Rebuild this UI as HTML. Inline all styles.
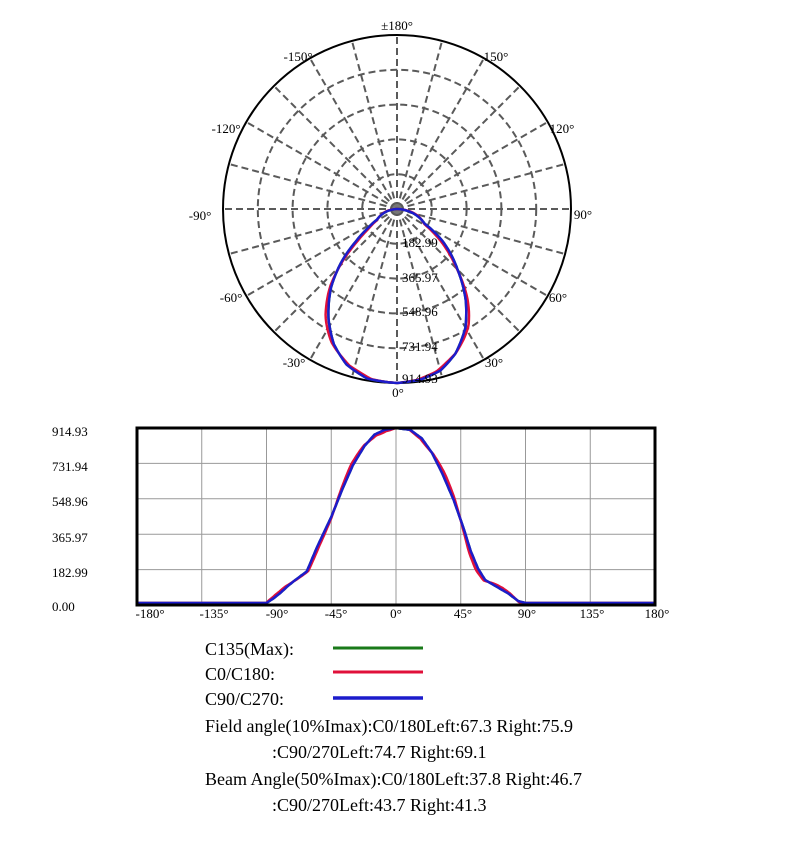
<!DOCTYPE html>
<html><head><meta charset="utf-8"><style>
body{margin:0;background:#fff;}
svg text{font-family:"Liberation Serif",serif;fill:#000;}
</style></head><body>
<svg id="s" width="799" height="841" xmlns="http://www.w3.org/2000/svg">
<g id="polar"></g>
<g font-size="13">
<text x="397" y="30" text-anchor="middle">±180°</text>
<text x="298" y="61" text-anchor="middle">-150°</text>
<text x="496" y="61" text-anchor="middle">150°</text>
<text x="226" y="133" text-anchor="middle">-120°</text>
<text x="562" y="133" text-anchor="middle">120°</text>
<text x="200" y="220" text-anchor="middle">-90°</text>
<text x="583" y="219" text-anchor="middle">90°</text>
<text x="231" y="302" text-anchor="middle">-60°</text>
<text x="558" y="302" text-anchor="middle">60°</text>
<text x="294" y="367" text-anchor="middle">-30°</text>
<text x="494" y="367" text-anchor="middle">30°</text>
<text x="398" y="397" text-anchor="middle">0°</text>
<text x="402" y="247">182.99</text>
<text x="402" y="282">365.97</text>
<text x="402" y="316">548.96</text>
<text x="402" y="351">731.94</text>
<text x="402" y="383">914.93</text>
</g>
<g id="cart"></g>
<g font-size="13">
<text x="52" y="436">914.93</text>
<text x="52" y="471">731.94</text>
<text x="52" y="506">548.96</text>
<text x="52" y="542">365.97</text>
<text x="52" y="577">182.99</text>
<text x="52" y="611">0.00</text>
<text x="150" y="618" text-anchor="middle">-180°</text>
<text x="214" y="618" text-anchor="middle">-135°</text>
<text x="277" y="618" text-anchor="middle">-90°</text>
<text x="336" y="618" text-anchor="middle">-45°</text>
<text x="396" y="618" text-anchor="middle">0°</text>
<text x="463" y="618" text-anchor="middle">45°</text>
<text x="527" y="618" text-anchor="middle">90°</text>
<text x="592" y="618" text-anchor="middle">135°</text>
<text x="657" y="618" text-anchor="middle">180°</text>
</g>
<g font-size="18">
<text x="205" y="655">C135(Max):</text>
<text x="205" y="680">C0/C180:</text>
<text x="205" y="705">C90/C270:</text>
<line x1="333" y1="648" x2="423" y2="648" stroke="#1a7a1a" stroke-width="3"/>
<line x1="333" y1="672" x2="423" y2="672" stroke="#e0103a" stroke-width="3"/>
<line x1="333" y1="698" x2="423" y2="698" stroke="#1c1ccc" stroke-width="3.5"/>
<text x="205" y="732">Field angle(10%Imax):C0/180Left:67.3 Right:75.9</text>
<text x="272" y="758">:C90/270Left:74.7 Right:69.1</text>
<text x="205" y="785">Beam Angle(50%Imax):C0/180Left:37.8 Right:46.7</text>
<text x="272" y="811">:C90/270Left:43.7 Right:41.3</text>
</g>
</svg>
<script>
var NS="http://www.w3.org/2000/svg";
function el(p,t,a){var e=document.createElementNS(NS,t);for(var k in a)e.setAttribute(k,a[k]);p.appendChild(e);return e;}
var P=document.getElementById("polar"),C=document.getElementById("cart");
var cx=397,cy=209,R=174;
for(var a=0;a<360;a+=15){var r=a*Math.PI/180;
 el(P,"line",{x1:cx,y1:cy,x2:cx+R*Math.sin(r),y2:cy+R*Math.cos(r),stroke:"#5a5a5a","stroke-width":2,"stroke-dasharray":"7,4"});}
for(var i=1;i<=4;i++)el(P,"circle",{cx:cx,cy:cy,r:R*i/5,fill:"none",stroke:"#5a5a5a","stroke-width":2,"stroke-dasharray":"7,4"});
el(P,"circle",{cx:cx,cy:cy,r:R,fill:"none",stroke:"#000","stroke-width":2});
el(P,"circle",{cx:cx,cy:cy,r:5,fill:"#777"});
var T=[[-90,0],[-85,25],[-80,55],[-75,90],[-70,120],[-62,165],[-55,290],[-45,450],[-37,600],[-30,720],[-22,820],[-15,880],[-8,905],[0,915],[10,905],[18,860],[25,785],[32,680],[40,540],[47,390],[52,270],[57,180],[62,120],[70,85],[78,50],[85,10],[90,0]];
function I(t){if(t<=-90||t>=90)return 0;for(var i=0;i<T.length-1;i++){if(t>=T[i][0]&&t<=T[i+1][0]){var f=(t-T[i][0])/(T[i+1][0]-T[i][0]);return T[i][1]+f*(T[i+1][1]-T[i][1]);}}return 0;}
var cols=[["#1a7a1a",0,0],["#e0103a",1.5,6],["#1c1ccc",0,0]];
var L=137,Rt=655,Tp=428,B=605;
for(var k=1;k<8;k++){var x=L+(Rt-L)*k/8;el(C,"line",{x1:x,y1:Tp,x2:x,y2:B,stroke:"#999","stroke-width":1});}
for(var k=1;k<5;k++){var y=Tp+(B-Tp)*k/5;el(C,"line",{x1:L,y1:y,x2:Rt,y2:y,stroke:"#999","stroke-width":1});}
cols.forEach(function(c,ci){
 var d="",pd="";
 for(var t=-180;t<=180;t+=1){var v=I(t+c[1]*Math.sin(t/7));if(v>0)v+=c[2]*Math.sin(t/5);if(v<0)v=0;if(v>915)v=915;
  var x=L+(t+180)/360*(Rt-L),y=B-2-v/915*(B-Tp-2);d+=(t==-180?"M":"L")+x.toFixed(1)+","+y.toFixed(1);}
 for(var t=-180;t<=180;t+=1){var v=I(t+c[1]*Math.sin(t/7));var r=v/915*R,a=t*Math.PI/180;
  var x=cx-r*Math.sin(a),y=cy+r*Math.cos(a);pd+=(t==-180?"M":"L")+x.toFixed(1)+","+y.toFixed(1);}
 el(C,"path",{d:d,fill:"none",stroke:c[0],"stroke-width":2.5});
 el(P,"path",{d:pd+"Z",fill:"none",stroke:c[0],"stroke-width":2.5});
});
el(C,"rect",{x:L,y:Tp,width:Rt-L,height:B-Tp,fill:"none",stroke:"#000","stroke-width":3});
</script>
</body></html>
